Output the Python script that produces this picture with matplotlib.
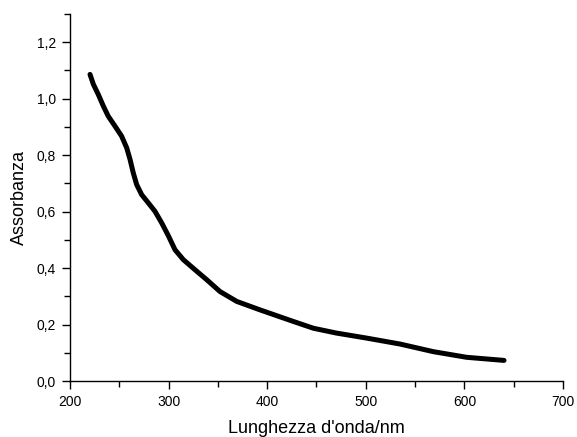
import matplotlib
matplotlib.use("Agg")
import matplotlib.pyplot as plt
from matplotlib.ticker import MultipleLocator, FuncFormatter

plt.rcParams['font.family'] = ['Liberation Sans', 'DejaVu Sans']

# Absorption spectrum
wavelength = [220.3, 223.7, 228.7, 233.8, 238.8, 245.6, 252.4, 257.5, 260.9, 264.2,
              267.6, 272.7, 279.4, 286.2, 293.0, 299.7, 306.5, 314.9, 326.8, 338.6,
              352.1, 369.1, 392.7, 426.5, 446.8, 470.0, 500.9, 534.7, 568.5, 602.3,
              640.2]
absorbance = [1.086, 1.051, 1.015, 0.974, 0.938, 0.903, 0.867, 0.826, 0.785, 0.737,
              0.696, 0.660, 0.631, 0.601, 0.560, 0.515, 0.465, 0.430, 0.394, 0.359,
              0.317, 0.282, 0.252, 0.211, 0.187, 0.170, 0.152, 0.131, 0.104, 0.084,
              0.073]

fig = plt.figure(figsize=(5.77, 4.37), dpi=100)
ax = fig.add_axes([0.1213, 0.1281, 0.8544, 0.8399])

ax.plot(wavelength, absorbance, color='black', lw=3.6, solid_capstyle='round',
        solid_joinstyle='round')

ax.set_xlim(200, 700)
ax.set_ylim(0, 1.3)
ax.spines['top'].set_visible(False)
ax.spines['right'].set_visible(False)
for s in ('left', 'bottom'):
    ax.spines[s].set_linewidth(1.0)

ax.xaxis.set_major_locator(MultipleLocator(100))
ax.xaxis.set_minor_locator(MultipleLocator(50))
ax.yaxis.set_major_locator(MultipleLocator(0.2))
ax.yaxis.set_minor_locator(MultipleLocator(0.1))
ax.yaxis.set_major_formatter(FuncFormatter(lambda v, p: f"{v:.1f}".replace('.', ',')))
ax.tick_params(which='major', direction='out', length=6, width=1, labelsize=10, pad=4)
ax.tick_params(which='minor', direction='out', length=4, width=1)

ax.set_xlabel("Lunghezza d'onda/nm", fontsize=13, labelpad=8)
ax.set_ylabel("Assorbanza", fontsize=13, labelpad=6)

fig.savefig("out.png", dpi=100)
